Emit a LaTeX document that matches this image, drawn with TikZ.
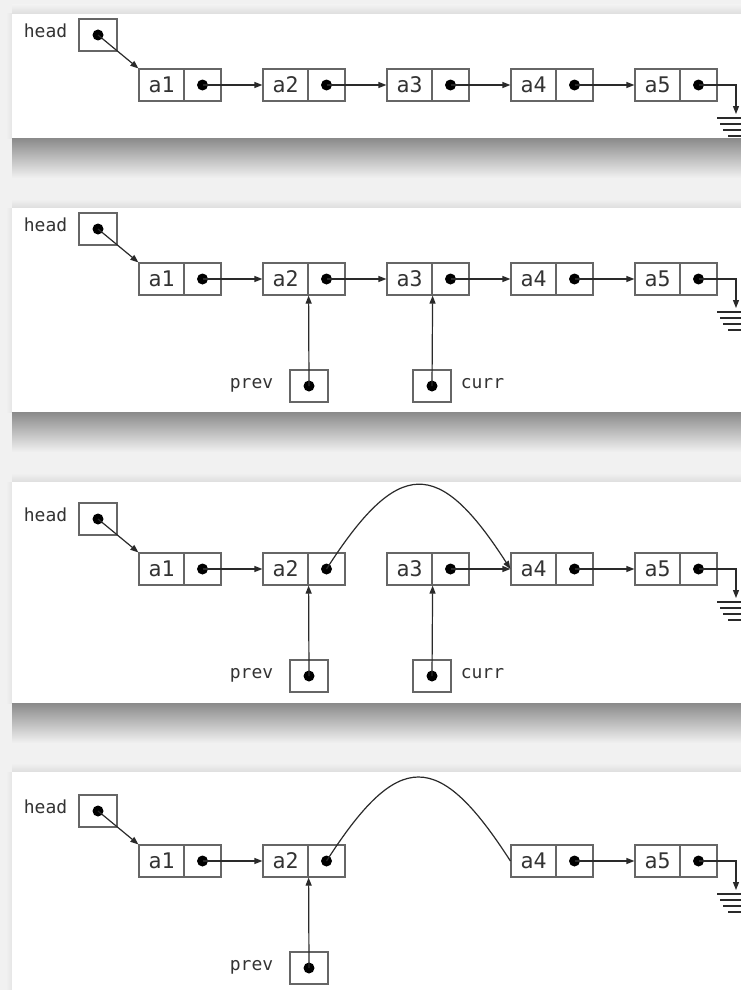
\documentclass[tikz,border=0pt]{standalone}
\usepackage{fontspec}
\setmonofont{DejaVu Sans Mono}
\usetikzlibrary{arrows.meta,calc}
\definecolor{bgc}{HTML}{F1F1F1}
\definecolor{boxc}{HTML}{666666}
\definecolor{linec}{HTML}{2A2A2A}
\definecolor{txtc}{HTML}{333333}
\tikzset{
  lbl/.style={draw=boxc, line width=1.2pt, minimum width=45pt, minimum height=32pt, inner sep=0pt, font=\ttfamily\fontsize{21.5}{22}\selectfont, text=txtc},
  ptrcell/.style={draw=boxc, line width=1.2pt, minimum width=37pt, minimum height=32pt, inner sep=0pt},
  varbox/.style={draw=boxc, line width=1.2pt, minimum width=38pt, minimum height=32pt, inner sep=0pt},
  dotnode/.style={circle, fill=black, minimum size=11pt, inner sep=0pt},
  varname/.style={font=\ttfamily\fontsize{18}{18}\selectfont, text=txtc, inner sep=0pt},
  link/.style={draw=linec, line width=1.2pt, -{Triangle[length=8pt,width=6pt]}},
  plainlink/.style={draw=linec, line width=1.2pt},
  gnd/.style={draw=linec, line width=1.1pt},
}
% list node: #1 name, #2 left x, #3 row y, #4 label
\newcommand\mklnode[4]{%
  \node[lbl] (#1) at (#2+22.5,#3) {#4};
  \node[ptrcell] (c#1) at (#2+63.5,#3) {};
  \node[dotnode] (d#1) at (c#1.center) {};
}
% variable box: #1 name, #2 x, #3 y
\newcommand\mkvar[3]{%
  \node[varbox] (#1) at (#2,#3) {};
  \node[dotnode] (d#1) at (#1.center) {};
}
% panel: #1 top, #2 bottom
\newcommand\mkpanel[2]{%
  \shade[top color=bgc, bottom color=black!13] (12,#1-9) rectangle (741,#1);
  \shade[left color=bgc, right color=black!10] (6,#1) rectangle (12,#2);
  \shade[top color=black!46, middle color=black!18, bottom color=bgc] (12,#2) rectangle (741,#2+40);
  \fill[white] (12,#1) rectangle (741,#2);
}
% ground symbol: #1 name, #2 row y
\newcommand\mkground[2]{%
  \coordinate (#1) at (736,#2+29);
  \draw[gnd] (717,#2+33) -- (755,#2+33);
  \draw[gnd] (720,#2+39) -- (752,#2+39);
  \draw[gnd] (723,#2+45) -- (749,#2+45);
  \draw[gnd] (728,#2+51) -- (744,#2+51);
}
\begin{document}
\begin{tikzpicture}[x=1pt,y=-1pt]
\useasboundingbox (0,0) rectangle (741,990);
\fill[bgc] (0,0) rectangle (741,990);
\mkpanel{14}{138}
\mkpanel{208}{412}
\mkpanel{482}{703}
\mkpanel{772}{1000}

% ---------- Panel 1 ----------
\mkvar{p1h}{98}{35}
\node[varname, anchor=mid east] (p1hl) at ($(p1h.west)+(-11,0)$) {head};
\foreach \i/\x in {1/139,2/263,3/387,4/511,5/635} {\mklnode{p1a\i}{\x}{85}{a\i}}
\draw[link] (dp1h.center) -- (p1a1.north west);
\foreach \i/\j in {1/2,2/3,3/4,4/5} {\draw[link] (dp1a\i.center) -- (p1a\j.west);}
\mkground{p1g}{85}
\draw[link] (dp1a5.center) -| (p1g);

% ---------- Panel 2 ----------
\mkvar{p2h}{98}{229}
\node[varname, anchor=mid east] (p2hl) at ($(p2h.west)+(-11,0)$) {head};
\foreach \i/\x in {1/139,2/263,3/387,4/511,5/635} {\mklnode{p2a\i}{\x}{279}{a\i}}
\draw[link] (dp2h.center) -- (p2a1.north west);
\foreach \i/\j in {1/2,2/3,3/4,4/5} {\draw[link] (dp2a\i.center) -- (p2a\j.west);}
\mkground{p2g}{279}
\draw[link] (dp2a5.center) -| (p2g);
\mkvar{p2prev}{309}{386}
\mkvar{p2curr}{432}{386}
\node[varname, anchor=mid east] (p2prevl) at ($(p2prev.west)+(-16,0)$) {prev};
\node[varname, anchor=mid west] (p2currl) at ($(p2curr.east)+(9,0)$) {curr};
\draw[link] (dp2prev.center) -- (p2a2.south east);
\draw[link] (dp2curr.center) -- (p2a3.south east);

% ---------- Panel 3 ----------
\mkvar{p3h}{98}{519}
\node[varname, anchor=mid east] (p3hl) at ($(p3h.west)+(-11,0)$) {head};
\foreach \i/\x in {1/139,2/263,3/387,4/511,5/635} {\mklnode{p3a\i}{\x}{569}{a\i}}
\draw[link] (dp3h.center) -- (p3a1.north west);
\draw[link] (dp3a1.center) -- (p3a2.west);
\draw[link] (dp3a3.center) -- (p3a4.west);
\draw[link] (dp3a4.center) -- (p3a5.west);
\draw[link] (dp3a2.center) .. controls +(72,-112) and +(-72,-112) .. (p3a4.west);
\mkground{p3g}{569}
\draw[link] (dp3a5.center) -| (p3g);
\mkvar{p3prev}{309}{676}
\mkvar{p3curr}{432}{676}
\node[varname, anchor=mid east] (p3prevl) at ($(p3prev.west)+(-16,0)$) {prev};
\node[varname, anchor=mid west] (p3currl) at ($(p3curr.east)+(9,0)$) {curr};
\draw[link] (dp3prev.center) -- (p3a2.south east);
\draw[link] (dp3curr.center) -- (p3a3.south east);

% ---------- Panel 4 ----------
\mkvar{p4h}{98}{811}
\node[varname, anchor=mid east] (p4hl) at ($(p4h.west)+(-11,0)$) {head};
\foreach \i/\x in {1/139,2/263,4/511,5/635} {\mklnode{p4a\i}{\x}{861}{a\i}}
\draw[link] (dp4h.center) -- (p4a1.north west);
\draw[link] (dp4a1.center) -- (p4a2.west);
\draw[link] (dp4a4.center) -- (p4a5.west);
\draw[plainlink] (dp4a2.center) .. controls +(72,-112) and +(-72,-112) .. (p4a4.west);
\mkground{p4g}{861}
\draw[link] (dp4a5.center) -| (p4g);
\mkvar{p4prev}{309}{968}
\node[varname, anchor=mid east] (p4prevl) at ($(p4prev.west)+(-16,0)$) {prev};
\draw[link] (dp4prev.center) -- (p4a2.south east);
\end{tikzpicture}
\end{document}
